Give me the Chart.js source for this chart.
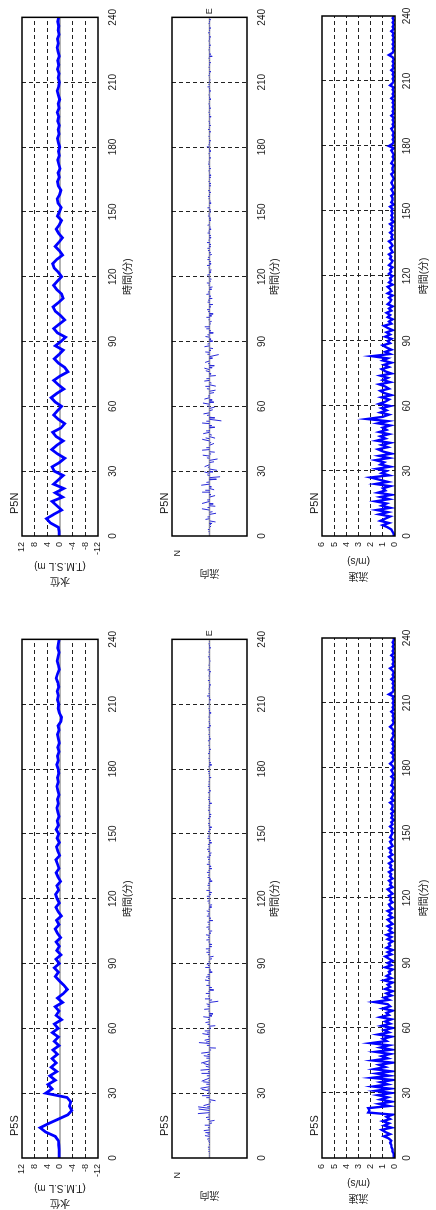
<!DOCTYPE html>
<html>
<head>
<meta charset="utf-8">
<script src="https://cdn.jsdelivr.net/npm/chart.js@4.4.0/dist/chart.umd.min.js"></script>
<style>
html,body{margin:0;padding:0;background:#fff;width:436px;height:1210px;overflow:hidden}
#sheet{position:absolute;left:0;top:0;width:1210px;height:436px;transform-origin:0 0;transform:translateY(1210px) rotate(-90deg)}
#sheet canvas{position:absolute}
</style>
</head>
<body>
<div id="sheet"></div>
<script>
'use strict'

// water level, every 2 min (T.M.S.L m)
const levelP5S = [
  0.3,0.3,0.3,0.4,0.5,1.5,4.5,6.3,3.5,0.5,
  -2.5,-3.7,-3.0,-3.4,-2.2,4.5,2.5,3.8,1.5,3.2,
  1.0,2.8,1.2,2.5,0.8,2.2,0.3,1.8,0.5,2.4,
  0.6,1.8,-0.5,1.2,0.3,1.5,-0.8,0.8,-1.0,-2.3,
  -1.2,0.2,1.5,0.5,1.8,0.2,1.3,-0.3,1.0,0.2,
  1.2,-0.2,0.8,1.5,0.3,1.1,-0.4,0.6,1.3,0.2,
  0.9,1.4,0.4,1.0,-0.2,0.6,1.2,0.3,0.8,1.3,
  0.1,0.7,1.1,0.2,0.9,0.4,1.2,0.5,0.9,0.3,
  0.7,1.0,0.5,0.8,0.3,0.7,1.0,0.5,0.8,0.4,
  0.6,1.0,0.5,0.8,0.3,0.7,0.2,0.5,0.8,0.3,
  0.6,-0.3,-0.5,0.2,0.6,0.4,0.8,0.5,0.9,0.4,
  0.7,1.2,0.8,0.2,0.5,0.9,0.6,0.3,0.7,0.5,
  0.3
];
const levelP5N = [
  0.3,0.3,0.5,3.0,4.3,2.0,-0.5,1.0,2.5,-0.8,
  1.5,-1.2,2.0,0.5,-1.0,1.8,2.5,0.2,-1.5,0.8,
  2.6,1.0,-1.0,1.2,2.3,-0.3,-1.5,0.5,2.0,0.8,
  -0.5,1.5,2.8,1.0,-1.2,0.5,2.0,0.0,-2.5,-1.5,
  0.5,1.8,0.3,-1.0,1.5,-0.3,-1.8,0.8,2.0,0.3,
  -1.5,-0.2,1.5,2.2,0.5,-1.0,-0.5,1.0,2.0,0.8,
  -0.5,0.5,1.8,2.3,1.0,-0.8,0.2,1.5,0.3,-0.8,
  0.4,1.2,0.2,-0.5,0.8,0.2,-0.4,0.6,0.9,0.1,
  -0.3,0.5,0.8,0.2,0.6,0.0,0.4,0.7,0.2,0.5,
  0.1,0.5,0.8,0.3,0.6,0.2,0.7,0.4,0.9,0.3,
  0.6,0.1,0.5,0.9,0.4,0.2,0.6,0.3,0.8,0.4,
  0.7,0.2,0.6,0.9,0.5,0.8,0.3,0.6,0.4,0.7,
  0.4
];

// current speed, every 1 min (m/s)
const speedP5S = [
  0.1,0.1,0.1,0.2,0.2,0.3,0.3,0.4,0.3,0.5,
  0.9,0.4,0.8,1.1,0.3,0.9,0.5,1.0,0.4,0.7,
  0.2,2.2,2.1,2.2,0.5,1.3,0.3,1.2,0.6,1.4,
  0.3,1.6,0.4,1.8,0.6,1.2,0.2,1.9,0.5,1.5,
  0.3,1.7,0.8,1.3,0.2,1.8,0.6,1.1,0.4,1.6,
  0.3,1.2,0.5,2.0,0.7,1.0,0.3,1.4,0.5,0.9,
  0.2,1.1,0.4,0.8,0.3,1.2,0.5,0.7,0.2,1.0,
  0.4,0.6,1.7,0.5,0.9,0.3,0.7,0.2,0.8,0.4,
  0.6,0.2,0.9,0.3,0.7,0.4,0.5,0.2,0.8,0.3,
  0.6,0.2,0.5,0.8,0.3,0.6,0.2,0.7,0.4,0.5,
  0.2,0.6,0.3,0.7,0.2,0.5,0.3,0.6,0.2,0.4,
  0.6,0.2,0.5,0.3,0.6,0.2,0.4,0.5,0.2,0.4,
  0.3,0.5,0.2,0.4,0.6,0.2,0.4,0.3,0.5,0.2,
  0.4,0.3,0.5,0.2,0.4,0.3,0.5,0.2,0.3,0.5,
  0.2,0.4,0.3,0.5,0.2,0.3,0.4,0.2,0.4,0.3,
  0.2,0.3,0.2,0.4,0.2,0.3,0.1,0.3,0.2,0.3,
  0.1,0.3,0.2,0.2,0.4,0.1,0.3,0.2,0.1,0.3,
  0.2,0.1,0.3,0.2,0.2,0.1,0.3,0.1,0.2,0.3,
  0.1,0.2,0.4,0.2,0.1,0.2,0.1,0.3,0.1,0.2,
  0.1,0.2,0.1,0.3,0.2,0.1,0.2,0.1,0.2,0.4,
  0.2,0.1,0.2,0.1,0.2,0.1,0.3,0.1,0.2,0.1,
  0.2,0.1,0.2,0.1,0.5,0.2,0.1,0.2,0.1,0.2,
  0.1,0.3,0.1,0.2,0.1,0.2,0.4,0.1,0.2,0.1,
  0.2,0.1,0.3,0.1,0.2,0.1,0.2,0.1,0.2,0.1,
  0.1
];
const speedP5N = [
  0.1,0.1,0.2,0.3,0.6,1.0,0.5,1.2,0.8,0.4,
  1.3,0.6,1.5,0.4,1.1,0.7,1.6,0.5,1.2,0.3,
  1.4,0.8,1.0,0.4,1.6,0.6,1.3,2.0,0.5,1.1,
  0.7,1.5,0.4,1.2,0.9,1.6,0.5,1.3,0.3,1.0,
  1.4,0.6,1.1,0.4,1.5,0.8,1.2,0.5,1.3,0.7,
  1.0,0.4,1.4,0.6,2.3,1.0,0.5,1.2,0.7,1.1,
  0.4,1.3,0.8,0.5,1.1,0.3,0.9,1.2,0.5,0.8,
  1.3,0.4,1.0,0.6,1.2,0.3,0.8,1.1,0.5,0.9,
  0.3,1.0,0.6,1.9,0.4,0.8,0.3,0.7,1.0,0.4,
  0.6,0.3,0.8,0.4,0.7,0.2,0.6,0.9,0.3,0.5,
  0.2,0.6,0.4,0.7,0.3,0.5,0.2,0.6,0.4,0.3,
  0.5,0.2,0.6,0.3,0.4,0.6,0.2,0.5,0.3,0.4,
  0.2,0.5,0.3,0.4,0.2,0.5,0.3,0.2,0.4,0.3,
  0.5,0.2,0.3,0.4,0.2,0.3,0.5,0.2,0.3,0.2,
  0.4,0.2,0.3,0.2,0.4,0.1,0.3,0.2,0.3,0.2,
  0.3,0.2,0.4,0.1,0.3,0.2,0.2,0.3,0.1,0.2,
  0.3,0.1,0.2,0.3,0.2,0.1,0.2,0.3,0.1,0.2,
  0.2,0.1,0.3,0.2,0.1,0.2,0.1,0.2,0.3,0.1,
  0.5,0.2,0.1,0.2,0.1,0.2,0.1,0.2,0.3,0.1,
  0.2,0.1,0.2,0.1,0.3,0.1,0.2,0.1,0.2,0.1,
  0.2,0.1,0.3,0.1,0.2,0.1,0.2,0.1,0.4,0.2,
  0.1,0.2,0.1,0.2,0.1,0.3,0.1,0.2,0.1,0.2,
  0.1,0.2,0.5,0.2,0.1,0.2,0.1,0.2,0.1,0.2,
  0.1,0.2,0.1,0.3,0.1,0.2,0.1,0.2,0.1,0.2,
  0.1
];

// current direction (deg from north), one value per 2 min
const dirP5S = [
  0,0,0,90,330,20,345,10,160,340,
  350,15,330,200,355,25,340,10,320,5,
  350,30,330,15,345,185,10,335,20,350,
  170,340,15,200,350,25,165,340,10,195,
  350,20,340,180,10,330,160,15,345,200,
  350,20,175,340,15,190,350,30,165,340,
  10,200,345,20,170,335,15,190,350,25,
  160,340,10,195,350,20,175,330,15,185,
  345,25,165,340,10,200,350,20,170,335,
  15,190,345,25,160,340,10,195,350,20,
  175,330,15,185,345,25,165,340,10,200,
  350,20,170,335,15,190,345,25,160,340,
  10
];
const dirP5N = [
  0,0,120,200,340,160,20,190,330,150,
  10,210,345,170,30,200,320,160,15,190,
  350,140,25,210,335,165,10,195,340,150,
  20,185,330,160,15,205,345,170,30,190,
  325,155,10,200,340,165,20,180,350,145,
  15,195,335,170,25,190,345,160,10,200,
  330,165,20,185,350,150,15,200,340,170,
  25,190,335,160,10,205,345,175,20,185,
  330,160,15,195,350,170,25,190,340,155,
  10,200,345,165,20,185,335,175,15,190,
  350,160,25,195,340,170,10,200,330,165,
  20,185,345,155,15,190,335,170,25,195,
  350
];

const timeTicks = [0,30,60,90,120,150,180,210,240];
const levelTicks = [12,8,4,0,-4,-8,-12];
const speedTicks = [6,5,4,3,2,1,0];

const FONT = "'Liberation Sans', Arial, 'Noto Sans CJK JP', sans-serif";
const BLUE = '#0000ff';
const KX = 1.2; // minutes per stick unit

function xy(values, step) {
  return values.map((v, i) => ({x: i * step, y: v}));
}

// one stick per minute, speed as length, direction held for its 2 min slot
function sticks(dirs, speed) {
  let pts = [];
  speed.forEach((s, t) => {
    let r = dirs[Math.floor(t / 2)] * Math.PI / 180;
    pts.push({x: t, y: 0}, {x: t + s * Math.sin(r) * KX, y: s * Math.cos(r)}, {x: t, y: null});
  });
  return pts;
}

const frame = {
  id: 'frame',
  afterDraw(chart, args, opts) {
    let ctx = chart.ctx, a = chart.chartArea;
    ctx.save();
    ctx.strokeStyle = '#000';
    ctx.lineWidth = 1.5;
    ctx.strokeRect(a.left, a.top, a.right - a.left, a.bottom - a.top);
    ctx.fillStyle = '#222';
    ctx.font = '11px ' + FONT;
    ctx.textAlign = 'left';
    ctx.textBaseline = 'alphabetic';
    ctx.fillText(opts.station, a.left + 22, a.top - 4);
    if (opts.east) {
      ctx.font = '9px ' + FONT;
      ctx.textBaseline = 'middle';
      ctx.fillText('E', a.right + 3, chart.scales.y.getPixelForValue(0));
    }
    ctx.restore();
  }
};

function timeAxis(h, pad, pb) {
  return {
    type: 'linear', min: 0, max: 240,
    afterBuildTicks: s => { s.ticks = timeTicks.map(v => ({value: v})); },
    ticks: {padding: pad, color: '#222', font: {family: FONT, size: 10}, maxRotation: 0, autoSkip: false},
    grid: {drawTicks: false, lineWidth: 1, color: c => (c.tick.value > 0 && c.tick.value < 240) ? '#222' : 'rgba(0,0,0,0)'},
    border: {display: false, dash: [4, 3]},
    title: {display: true, text: '時間(分)', color: '#222', font: {family: FONT, size: 10}, padding: {top: 0, bottom: pb}},
    afterFit: s => { s.height = h; }
  };
}

function valueAxis(min, max, ticks, title, pt, opts) {
  return Object.assign({
    min: min, max: max,
    afterBuildTicks: s => { s.ticks = ticks.map(v => ({value: v})); },
    ticks: {padding: 6, color: '#222', font: {family: FONT, size: 9}, autoSkip: false},
    grid: {drawTicks: false, lineWidth: 1, color: c => (c.tick.value > min && c.tick.value < max && c.tick.value !== 0) ? '#222' : 'rgba(0,0,0,0)'},
    border: {display: false, dash: [4, 3]},
    title: {display: true, text: title, color: '#222', font: {family: FONT, size: 10, lineHeight: 1.5}, padding: {top: pt, bottom: 0}},
    afterFit: s => { s.width = 52; }
  }, opts || {});
}

const cols = [
  {station: 'P5S', left: 0, level: levelP5S, speed: speedP5S, dir: dirP5S},
  {station: 'P5N', left: 622, level: levelP5N, speed: speedP5N, dir: dirP5N}
];
const rows = [
  {kind: 'level', top: 0, padTop: 22, axisH: 42, pad: 9, pb: 6},
  {kind: 'dir', top: 150, padTop: 22, axisH: 43, pad: 9, pb: 9},
  {kind: 'speed', top: 296, padTop: 26, axisH: 41, pad: 6, pb: 6}
];

const sheet = document.getElementById('sheet');

cols.forEach(col => {
  rows.forEach(row => {
    let canvas = document.createElement('canvas');
    canvas.width = 588;
    canvas.height = 140;
    canvas.style.left = col.left + 'px';
    canvas.style.top = row.top + 'px';
    sheet.appendChild(canvas);

    let datasets, yAxis;
    let baseline = {data: [{x: 0, y: 0}, {x: 240, y: 0}], borderColor: '#999', borderWidth: 1.5, pointRadius: 0};
    if (row.kind === 'level') {
      datasets = [{data: xy(col.level, 2), borderColor: BLUE, borderWidth: 2.8, pointRadius: 0, tension: 0}, baseline];
      yAxis = valueAxis(-12, 12, levelTicks, ['水位', '(T.M.S.L m)'], 0);
    } else if (row.kind === 'speed') {
      datasets = [{data: xy(col.speed, 1), borderColor: BLUE, borderWidth: 2.4, pointRadius: 0, tension: 0}];
      yAxis = valueAxis(0, 6, speedTicks, ['流速', '(m/s)'], 5);
    } else {
      datasets = [{data: sticks(col.dir, col.speed), borderColor: '#2a2ad8', borderWidth: 1, pointRadius: 0, spanGaps: false}, baseline];
      yAxis = valueAxis(-7, 7, [6], '流向', 8, {
        ticks: {padding: 6, color: '#222', font: {family: FONT, size: 9}, callback: () => 'N'},
        grid: {display: false}
      });
    }

    new Chart(canvas, {
      type: 'line',
      data: {datasets: datasets},
      options: {
        responsive: false,
        animation: false,
        devicePixelRatio: 1,
        layout: {padding: {top: row.padTop, right: 16, left: 0, bottom: 0}},
        plugins: {legend: {display: false}, tooltip: {enabled: false}, frame: {station: col.station, east: row.kind === 'dir'}},
        scales: {x: timeAxis(row.axisH, row.pad, row.pb), y: yAxis}
      },
      plugins: [frame]
    });
  });
});
</script>
</body>
</html>
